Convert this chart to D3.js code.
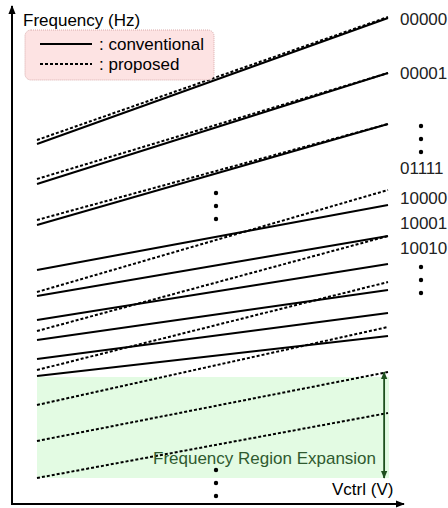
<!DOCTYPE html>
<html>
<head>
<meta charset="utf-8">
<script src="https://cdn.jsdelivr.net/npm/d3@7"></script>
<style>
  html, body { margin: 0; padding: 0; background: #fff; }
  svg { display: block; }
  text { font-family: "Liberation Sans", Arial, Helvetica, sans-serif; }
</style>
</head>
<body>
<script>
// ---- data (frequency in arbitrary units at Vctrl = min / max) ----
const convStart = [3.60, 3.20, 2.79, 2.34, 2.08, 1.84, 1.64, 1.45, 1.28];
const convEnd   = [4.86, 4.31, 3.80, 2.99, 2.68, 2.40, 2.14, 1.91, 1.68];
const propStart = [3.64, 3.25, 2.84, 2.12, 1.73, 1.34, 0.99, 0.63, 0.26];
const propEnd   = [4.87, 4.31, 3.80, 3.14, 2.68, 2.22, 1.77, 1.32, 0.91];
const codeLabels = ["00000", "00001", "01111", "10000", "10001", "10010"];
const codeLabelFreq = [4.85, 4.31, 3.36, 3.06, 2.81, 2.56];
const expansionRange = [0.26, 1.27];   // shaded region (freq)
const expansionArrow = [0.26, 1.32];   // arrow span (freq)
const legendItems = [": conventional", ": proposed"];

const W = 448, H = 508;
const x = d3.scaleLinear().domain([0, 1]).range([37, 388]);
const y = d3.scaleLinear().domain([0, 5]).range([504, 4]);

const svg = d3.select("body").append("svg").attr("width", W).attr("height", H);
const defs = svg.append("defs");
defs.append("marker").attr("id", "ah").attr("viewBox", "0 0 10 10")
  .attr("refX", 9).attr("refY", 5).attr("markerWidth", 9).attr("markerHeight", 9)
  .attr("markerUnits", "userSpaceOnUse").attr("orient", "auto-start-reverse")
  .append("path").attr("d", "M0,1 L10,5 L0,9 Z").attr("fill", "#000");
defs.append("marker").attr("id", "gh").attr("viewBox", "0 0 10 10")
  .attr("refX", 9).attr("refY", 5).attr("markerWidth", 8).attr("markerHeight", 8)
  .attr("markerUnits", "userSpaceOnUse").attr("orient", "auto-start-reverse")
  .append("path").attr("d", "M0,1 L10,5 L0,9 Z").attr("fill", "#1e4f1e");

// shaded expansion region
svg.append("rect")
  .attr("x", x(0)).attr("width", x(1) - x(0) + 1)
  .attr("y", y(expansionRange[1])).attr("height", y(expansionRange[0]) - y(expansionRange[1]))
  .attr("fill", "#e3fbe3");

// axes
svg.append("line").attr("x1", 12).attr("y1", 505).attr("x2", 12).attr("y2", 6)
  .attr("stroke", "#000").attr("stroke-width", 2).attr("marker-end", "url(#ah)");
svg.append("line").attr("x1", 11).attr("y1", 504).attr("x2", 404).attr("y2", 504)
  .attr("stroke", "#000").attr("stroke-width", 2).attr("marker-end", "url(#ah)");

// conventional lines
svg.append("g").selectAll("line").data(convStart).join("line")
  .attr("x1", x(0)).attr("y1", d => y(d))
  .attr("x2", x(1)).attr("y2", (d, i) => y(convEnd[i]))
  .attr("stroke", "#000").attr("stroke-width", 2);

// proposed lines
svg.append("g").selectAll("line").data(propStart).join("line")
  .attr("x1", x(0)).attr("y1", d => y(d))
  .attr("x2", x(1)).attr("y2", (d, i) => y(propEnd[i]))
  .attr("stroke", "#000").attr("stroke-width", 2).attr("stroke-dasharray", "3,2");

// expansion arrow + text
svg.append("line").attr("x1", x(0.989)).attr("x2", x(0.989))
  .attr("y1", y(expansionArrow[1])).attr("y2", y(expansionArrow[0]))
  .attr("stroke", "#1e4f1e").attr("stroke-width", 1.8)
  .attr("marker-start", "url(#gh)").attr("marker-end", "url(#gh)");
svg.append("text").attr("x", 153).attr("y", 464).attr("font-size", 17)
  .attr("fill", "#2f5a2f").text("Frequency Region Expansion");

// axis labels
svg.append("text").attr("x", 23).attr("y", 26).attr("font-size", 17).text("Frequency (Hz)");
svg.append("text").attr("x", 332).attr("y", 495).attr("font-size", 17).text("Vctrl (V)");

// legend
const lg = svg.append("g");
lg.append("rect").attr("x", 25).attr("y", 30).attr("width", 189).attr("height", 50).attr("rx", 6)
  .attr("fill", "#fde3e3").attr("stroke", "#d8aaaa").attr("stroke-dasharray", "1,1");
lg.selectAll("line.l").data(legendItems).join("line")
  .attr("x1", 40).attr("x2", 92)
  .attr("y1", (d, i) => 44 + i * 20).attr("y2", (d, i) => 44 + i * 20)
  .attr("stroke", "#000").attr("stroke-width", 2)
  .attr("stroke-dasharray", (d, i) => i ? "3,2" : null);
lg.selectAll("text").data(legendItems).join("text")
  .attr("x", 99).attr("y", (d, i) => 50 + i * 20).attr("font-size", 17).text(d => d);

// code labels
svg.append("g").selectAll("text").data(codeLabels).join("text")
  .attr("x", 400).attr("y", (d, i) => y(codeLabelFreq[i])).attr("dy", "0.35em")
  .attr("font-size", 17).attr("fill", "#222").text(d => d);

// vertical ellipsis dots
const dotGroups = [[421, 3.78], [216, 3.11], [421, 2.37], [216, 0.34]];
const dg = svg.append("g");
dotGroups.forEach(([cx, f]) => {
  [0, 1, 2].forEach(k => {
    dg.append("circle").attr("cx", cx).attr("cy", y(f) + k * 13).attr("r", 2.2).attr("fill", "#000");
  });
});
</script>
</body>
</html>
